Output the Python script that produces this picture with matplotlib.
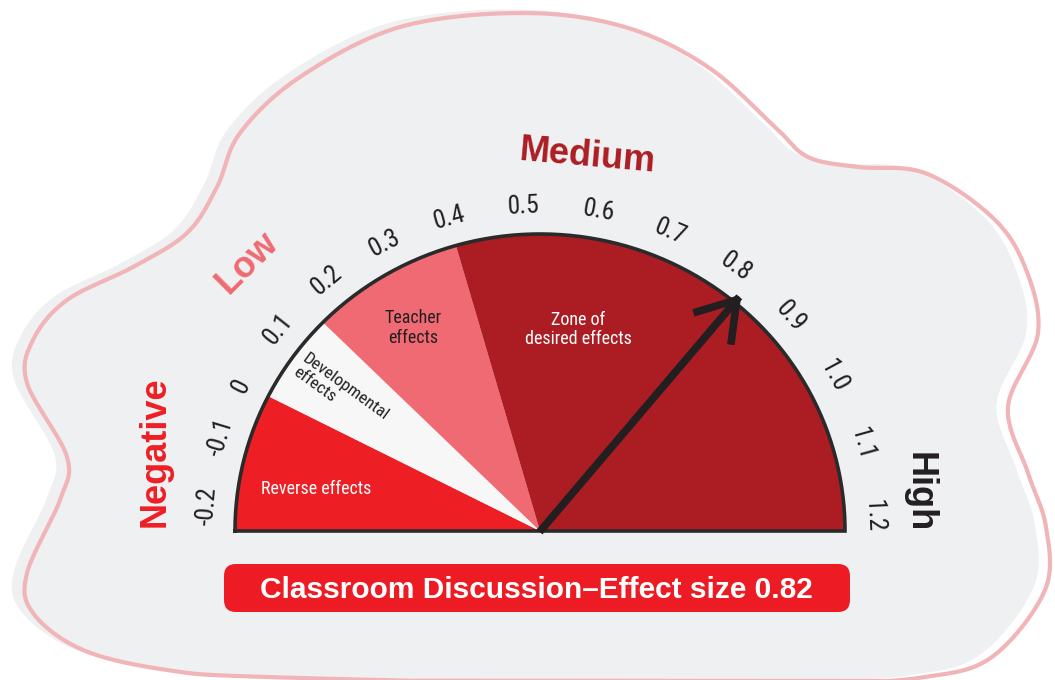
import numpy as np
import matplotlib.pyplot as plt
from matplotlib import font_manager
from matplotlib.font_manager import FontProperties
from matplotlib.patches import FancyBboxPatch, FancyArrowPatch

# ---- data ----
zone_edges = [-0.2, 0.0, 0.15, 0.4, 1.2]
zone_names = ['Reverse effects', 'Developmental\neffects', 'Teacher\neffects', 'Zone of\ndesired effects']
zone_colors = ['#ED1F24', '#F7F7F7', '#EF6A72', '#AB1D23']
zone_text_colors = ['white', '#231F20', '#231F20', 'white']

tick_values = [-0.2, -0.1, 0.0, 0.1, 0.2, 0.3, 0.4, 0.5, 0.6, 0.7, 0.8, 0.9, 1.0, 1.1, 1.2]
tick_labels = ['-0.2', '-0.1', '0', '0.1', '0.2', '0.3', '0.4', '0.5', '0.6', '0.7',
               '0.8', '0.9', '1.0', '1.1', '1.2']

band_names = ['Negative', 'Low', 'Medium', 'High']
band_colors = ['#ED1F24', '#EF6A72', '#AB1D23', '#231F20']

effect_name = 'Classroom Discussion'
effect_size = 0.82

# ---- layout (pixels) ----
W, H = 1055, 680
cx, cy = 540, 531
rx, ry = 305, 297
# gauge scale: value -> angle (degrees), piecewise linear as drawn in the original
scale_v = [-0.2, 0.0, 0.4, 1.2]
scale_a = [180, 153, 106, 0]
# tick labels are nudged inward at both ends
label_v = [-0.2, -0.1, 0.0, 0.4, 1.2]
label_a = [175.6, 163.3, 153.6, 105.7, 2.7]
BOLD = ['Liberation Sans', 'DejaVu Sans']

# pick a narrow / condensed face if one is installed
prefs = ['liberationsansnarrow-regular', 'robotocondensed-regular', 'dejavusanscondensed.',
         'notosans-condensed.', 'opensans-condensed', 'condensed-regular', 'narrow']
narrow_file = None
files = [f.fname for f in font_manager.fontManager.ttflist]
for p in prefs:
    hits = [f for f in files if p in f.lower().replace('_', '-').replace(' ', '')
            and 'bold' not in f.lower() and 'italic' not in f.lower()
            and 'oblique' not in f.lower() and 'light' not in f.lower()]
    if hits:
        narrow_file = hits[0]
        break


def narrow(size):
    if narrow_file:
        return FontProperties(fname=narrow_file, size=size)
    return FontProperties(family=['Roboto', 'DejaVu Sans'], size=size * 0.92)


def ang(v):
    return np.radians(np.interp(v, scale_v, scale_a))


def pos(v, r, a=None):
    t = ang(v) if a is None else a
    return cx + rx * r * np.cos(t), cy - ry * r * np.sin(t)


def smooth_closed(pts, n=24):
    P = np.asarray(pts, float)
    m = len(P)
    t = np.linspace(0, 1, n, endpoint=False)[:, None]
    out = []
    for i in range(m):
        p0, p1, p2, p3 = P[i - 1], P[i], P[(i + 1) % m], P[(i + 2) % m]
        out.append(0.5 * (2 * p1 + (-p0 + p2) * t + (2 * p0 - 5 * p1 + 4 * p2 - p3) * t ** 2
                          + (-p0 + 3 * p1 - 3 * p2 + p3) * t ** 3))
    out = np.vstack(out)
    return np.vstack([out, out[:1]])


blob = [(523, 13), (625, 27), (708, 67), (775, 127), (808, 157), (858, 167), (925, 173),
        (992, 217), (1025, 267), (1038, 333), (1008, 407), (1028, 473), (1046, 527),
        (1045, 590), (992, 657), (925, 677), (825, 683), (600, 684), (267, 677), (167, 670),
        (83, 650), (33, 613), (27, 573), (60, 500), (67, 457), (27, 383), (33, 340),
        (67, 300), (133, 267), (187, 233), (217, 187), (240, 133), (300, 77), (400, 27)]

fig = plt.figure(figsize=(W / 100, H / 100), dpi=100)
fig.patch.set_facecolor('white')
ax = fig.add_axes([0, 0, 1, 1])
ax.set_xlim(0, W)
ax.set_ylim(H, 0)
ax.axis('off')

# background blob
outline = smooth_closed(blob)
ax.fill(outline[:, 0] - 12, outline[:, 1] - 3, color='#EFF0F2', zorder=0)
ax.plot(outline[:, 0], outline[:, 1], color='#F1B5B8', lw=3, zorder=1)

# gauge zones
for i in range(len(zone_names)):
    t = np.linspace(ang(zone_edges[i]), ang(zone_edges[i + 1]), 100)
    xs = np.r_[cx, cx + rx * np.cos(t), cx]
    ys = np.r_[cy, cy - ry * np.sin(t), cy]
    ax.fill(xs, ys, color=zone_colors[i], lw=0, zorder=2)

# gauge outline
t = np.linspace(np.pi, 0, 300)
ax.plot(np.r_[cx + rx * np.cos(t), cx - rx], np.r_[cy - ry * np.sin(t), cy],
        color='#2B2A2A', lw=2.6, solid_joinstyle='miter', zorder=3)

# tick labels
for v, lab in zip(tick_values, tick_labels):
    a = np.radians(np.interp(v, label_v, label_a))
    x, y = pos(v, 1.095, a)
    ax.text(x, y, lab, fontproperties=narrow(18.5), color='#231F20',
            rotation=np.degrees(a) - 90, rotation_mode='anchor',
            ha='center', va='center', zorder=4)

# zone labels
zone_label_pos = [(-0.119, 0.748), (0.07, 0.80), (0.27, 0.80), (0.6, 0.69)]
zone_label_rot = [0, -36, 0, 0]
zone_label_size = [13, 12.5, 13, 13]
for name, (v, r), rot, fs, tc in zip(zone_names, zone_label_pos, zone_label_rot,
                                     zone_label_size, zone_text_colors):
    x, y = pos(v, r)
    ax.text(x, y, name, fontproperties=narrow(fs), color=tc, rotation=rot,
            rotation_mode='anchor', ha='center', va='center',
            multialignment='center' if rot == 0 else 'left', linespacing=1.1, zorder=4)

# band labels
band_pos = [(-0.111, 1.29), (0.138, 1.317), (0.574, 1.27), (1.155, 1.25)]
band_rot = [90, 45, -5, -90]
for name, (v, r), rot, c in zip(band_names, band_pos, band_rot, band_colors):
    x, y = pos(v, r)
    ax.text(x, y, name, fontsize=26, family=BOLD, weight='bold', color=c,
            rotation=rot, rotation_mode='anchor', ha='center', va='center', zorder=4)

# needle
tip = pos(effect_size, 1.035)
arrow = FancyArrowPatch((cx + 2, cy - 2), tip,
                        arrowstyle='->,head_length=0.7,head_width=0.45',
                        mutation_scale=36, lw=5.5, color='#231F20',
                        shrinkA=0, shrinkB=0, capstyle='projecting', zorder=5)
ax.add_patch(arrow)

# caption box
box = FancyBboxPatch((224, 564), 626, 48, boxstyle='round,pad=0,rounding_size=12',
                     facecolor='#ED1C24', edgecolor='none', zorder=4)
ax.add_patch(box)
ax.text(536, 598, f'{effect_name}\u2013Effect size {effect_size}', fontsize=21.5,
        family=BOLD, weight='bold', color='white', ha='center', va='baseline', zorder=5)

fig.savefig('out.png', dpi=100, facecolor='white')
